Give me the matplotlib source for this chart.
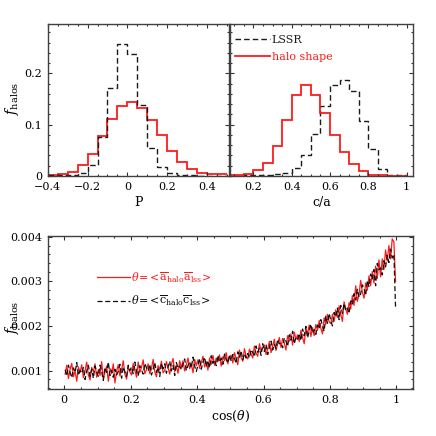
import numpy as np
import matplotlib
matplotlib.use("Agg")
import matplotlib.pyplot as plt
from matplotlib.ticker import MultipleLocator, FuncFormatter

plt.rcParams["font.family"] = ["DejaVu Serif"]
plt.rcParams["mathtext.fontset"] = "dejavuserif"

# ---------- top left: P histograms ----------
p_edges = np.round(np.arange(-0.40, 0.5001, 0.05), 3)
p_halo = [0.002, 0.003, 0.007, 0.021, 0.043, 0.077, 0.112, 0.136, 0.145,
          0.133, 0.110, 0.079, 0.049, 0.027, 0.013, 0.006, 0.004, 0.003]
p_lssr = [0.001, 0.001, 0.002, 0.005, 0.022, 0.076, 0.172, 0.257, 0.238,
          0.138, 0.055, 0.018, 0.005, 0.002, 0.001, 0.0005, 0.0, 0.0]

# ---------- top right: c/a histograms ----------
ca_edges = np.round(np.arange(0.05, 1.0001, 0.05), 3)
ca_halo = [0.001, 0.001, 0.003, 0.011, 0.026, 0.059, 0.110, 0.157, 0.177, 0.157,
           0.122, 0.079, 0.047, 0.024, 0.010, 0.002, 0.001, 0.0005, 0.0]
ca_lssr = [0.0, 0.0005, 0.001, 0.001, 0.002, 0.003, 0.005, 0.015, 0.040, 0.081,
           0.136, 0.177, 0.187, 0.166, 0.107, 0.052, 0.013, 0.002, 0.001]

# ---------- bottom: f_halos vs cos(theta), values in units of 1e-5 ----------
cos_bins = np.round(np.arange(0.0025, 1.0, 0.005), 4)
f_aa = [
    92, 112, 82, 103, 116, 86, 99, 76, 108, 96,
    113, 84, 99, 119, 90, 79, 107, 97, 115, 85,
    102, 89, 120, 81, 97, 110, 76, 105, 93, 115,
    72, 99, 113, 88, 102, 122, 92, 81, 108, 97,
    90, 116, 100, 85, 119, 96, 107, 124, 93, 102,
    115, 93, 105, 125, 97, 86, 111, 102, 121, 95,
    100, 120, 106, 92, 114, 127, 98, 110, 94, 122,
    106, 122, 99, 113, 128, 104, 115, 95, 125, 111,
    124, 105, 118, 132, 108, 120, 101, 128, 114, 134,
    112, 128, 120, 135, 110, 131, 122, 140, 115, 132,
    134, 117, 140, 126, 113, 146, 129, 121, 149, 133,
    126, 148, 137, 128, 155, 139, 132, 160, 144, 149,
    157, 136, 148, 165, 140, 155, 170, 145, 160, 174,
    152, 172, 161, 146, 178, 166, 182, 157, 186, 170,
    180, 165, 190, 174, 160, 195, 182, 202, 176, 196,
    178, 203, 190, 212, 195, 182, 218, 204, 226, 209,
    205, 226, 210, 236, 219, 245, 226, 210, 254, 238,
    226, 252, 238, 268, 246, 290, 255, 270, 302, 276,
    262, 296, 280, 312, 290, 322, 296, 334, 306, 348,
    310, 350, 326, 370, 345, 380, 350, 395, 388, 300,
]
f_cc = [
    102, 88, 112, 95, 84, 106, 96, 118, 89, 100,
    94, 107, 80, 99, 112, 87, 103, 83, 110, 97,
    87, 112, 97, 78, 107, 96, 119, 89, 101, 85,
    103, 90, 98, 114, 83, 108, 97, 87, 112, 100,
    108, 93, 119, 98, 88, 111, 102, 92, 116, 106,
    99, 114, 90, 103, 118, 96, 107, 87, 116, 104,
    115, 94, 108, 121, 99, 112, 89, 118, 105, 110,
    102, 115, 126, 100, 111, 120, 106, 130, 110, 98,
    112, 127, 103, 119, 130, 109, 122, 106, 133, 116,
    124, 111, 134, 119, 128, 114, 137, 125, 117, 135,
    121, 136, 127, 116, 142, 130, 144, 124, 138, 128,
    138, 128, 147, 140, 131, 155, 141, 150, 134, 160,
    143, 158, 136, 151, 166, 146, 159, 149, 170, 160,
    162, 151, 173, 166, 154, 180, 168, 188, 160, 174,
    170, 183, 167, 193, 178, 199, 173, 188, 204, 184,
    192, 181, 202, 193, 214, 200, 188, 222, 206, 228,
    212, 200, 230, 220, 240, 214, 246, 228, 250, 234,
    240, 228, 256, 248, 272, 258, 282, 264, 272, 292,
    284, 268, 302, 288, 316, 304, 326, 290, 340, 326,
    330, 314, 346, 332, 358, 342, 372, 352, 360, 242,
]

RED = "#ff1a1a"
DASH = (0, (4, 2.2))


def num_fmt(v, pos):
    return f"{round(v, 5) + 0:g}".replace("-", "\u2212")


def style_axis(ax, xmaj, xmin, ymaj, ymin):
    ax.xaxis.set_major_locator(MultipleLocator(xmaj))
    ax.xaxis.set_minor_locator(MultipleLocator(xmin))
    ax.yaxis.set_major_locator(MultipleLocator(ymaj))
    ax.yaxis.set_minor_locator(MultipleLocator(ymin))
    ax.xaxis.set_major_formatter(FuncFormatter(num_fmt))
    ax.yaxis.set_major_formatter(FuncFormatter(num_fmt))
    ax.tick_params(which="both", direction="in", top=True, right=True,
                   width=0.8, color="0.2", labelsize=8)
    ax.tick_params(which="major", length=3.2, pad=4)
    ax.tick_params(which="minor", length=1.6)
    for s in ax.spines.values():
        s.set_linewidth(1.0)
        s.set_color("0.25")


fig = plt.figure(figsize=(4.36, 4.36), dpi=100)
ax1 = fig.add_axes([0.1094, 0.5963, 0.4158, 0.3486])
ax2 = fig.add_axes([0.5275, 0.5963, 0.4197, 0.3486])
ax3 = fig.add_axes([0.1094, 0.1071, 0.8378, 0.3523])

# top left
ax1.stairs(p_halo, p_edges, color=RED, lw=1.3, baseline=None)
ax1.stairs(p_lssr, p_edges, color="0.1", lw=1.0, ls=DASH, baseline=None)
ax1.set_xlim(-0.4, 0.51)
ax1.set_ylim(0, 0.296)
style_axis(ax1, 0.2, 0.05, 0.1, 0.02)
ax1.set_xlabel("P", fontsize=9, labelpad=3)
ax1.set_ylabel(r"$f_{\rm halos}$", fontsize=10)
ax1.yaxis.set_label_coords(-0.15, 0.51)

# top right
ax2.stairs(ca_lssr, ca_edges, color="0.1", lw=1.0, ls=DASH, baseline=None,
           label="LSSR")
ax2.stairs(ca_halo, ca_edges, color=RED, lw=1.3, baseline=None,
           label="halo shape")
ax2.set_xlim(0.078, 1.033)
ax2.set_ylim(0, 0.296)
style_axis(ax2, 0.2, 0.05, 0.1, 0.02)
ax2.tick_params(labelleft=False)
ax2.set_xlabel("c/a", fontsize=9, labelpad=3)
ax2.legend(loc="upper left", bbox_to_anchor=(0.027, 0.93), frameon=False,
           fontsize=8, handlelength=3.2, handletextpad=0.1, borderpad=0,
           borderaxespad=0, labelspacing=0.65, labelcolor="linecolor")

# bottom
vals_aa = np.array(f_aa) * 1e-5
vals_cc = np.array(f_cc) * 1e-5
ax3.plot(cos_bins, vals_aa, color=RED, lw=0.9,
         label=r"$\theta\!=\!<\!\overline{\rm a}_{\rm halo}\overline{\rm a}_{\rm lss}\!>$")
ax3.plot(cos_bins, vals_cc, color="0.05", lw=0.9, ls=DASH,
         label=r"$\theta\!=\!<\!\overline{\rm c}_{\rm halo}\overline{\rm c}_{\rm lss}\!>$")
ax3.set_xlim(-0.05, 1.05)
ax3.set_ylim(0.00058, 0.00402)
style_axis(ax3, 0.2, 0.05, 0.001, 0.0002)
ax3.set_xlabel(r"cos($\theta$)", fontsize=9, labelpad=3)
ax3.set_ylabel(r"$f_{\rm halos}$", fontsize=10)
ax3.yaxis.set_label_coords(-0.074, 0.47)
ax3.legend(loc="upper left", bbox_to_anchor=(0.134, 0.775), frameon=False,
           fontsize=8, handlelength=3.0, handletextpad=0.05, borderpad=0,
           borderaxespad=0, labelspacing=0.75, labelcolor="linecolor")

fig.savefig("out.png", dpi=100)
